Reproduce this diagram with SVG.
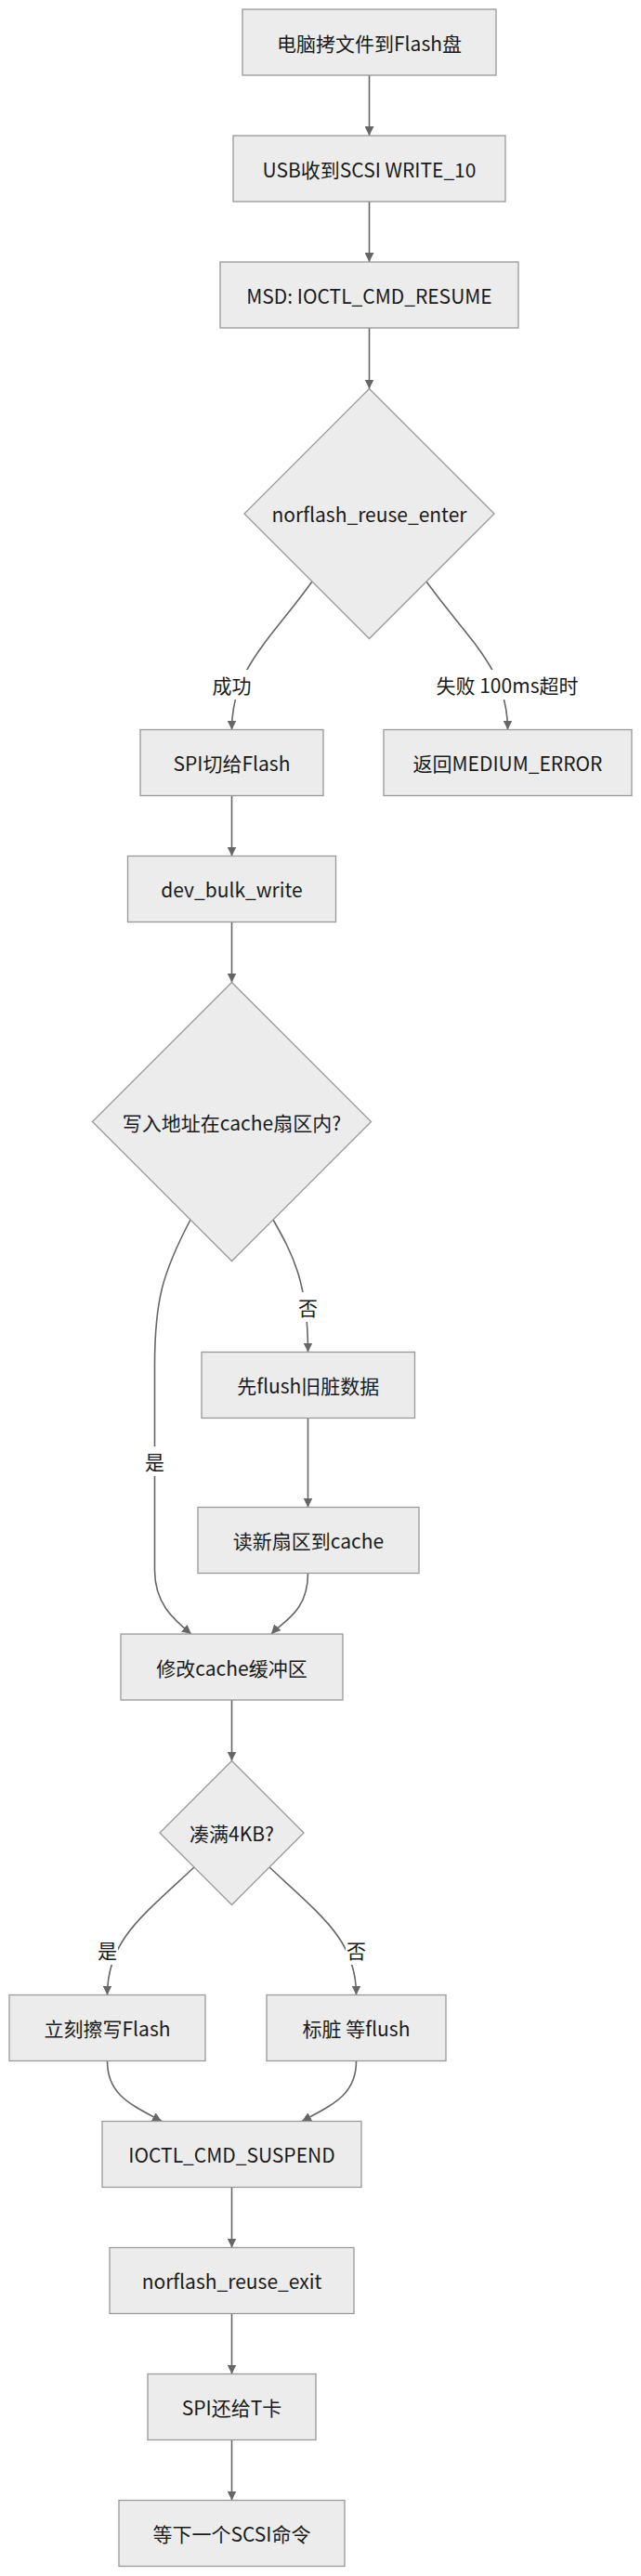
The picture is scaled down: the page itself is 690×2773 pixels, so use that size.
<svg xmlns="http://www.w3.org/2000/svg" width="690" height="2773" viewBox="0 0 690 2773">
<style>
.node rect, .node polygon { fill: #ececec; stroke: #999; stroke-width: 1.3px; }
text { font-family: "Noto Sans CJK SC", "Noto Sans", sans-serif; font-size: 21px; fill: #1a1a1a; text-anchor: middle; dominant-baseline: central; }
.edge { fill: none; stroke: #666; stroke-width: 1.6px; marker-end: url(#arrow); }
.lbl rect { fill: #fff; stroke: none; }
</style>
<defs>
<marker id="arrow" viewBox="0 0 10 10" refX="10" refY="5" markerUnits="userSpaceOnUse" markerWidth="10" markerHeight="10" orient="auto">
<path d="M0,0 L10,5 L0,10 z" fill="#666"/>
</marker>
</defs>
<rect width="690" height="2773" fill="#fff"/>
<g id="connectors">
<path class="edge" d="M397.5,81 L397.5,146"/>
<path class="edge" d="M397.5,217 L397.5,282"/>
<path class="edge" d="M397.5,353 L397.5,418.5"/>
<path class="edge" d="M336,626 C290,690 249.5,720 249.5,785.5"/>
<path class="edge" d="M459,626 C505,690 546.5,720 546.5,785.5"/>
<path class="edge" d="M249.5,856.5 L249.5,921.5"/>
<path class="edge" d="M249.5,992.5 L249.5,1057.5"/>
<path class="edge" d="M294,1313 C315,1350 331.5,1380 331.5,1455.5"/>
<path class="edge" d="M205,1313 C175,1370 166.5,1400 166.5,1470 L166.5,1690 C166.5,1725 185,1742 206,1759"/>
<path class="edge" d="M331.5,1526.5 L331.5,1622.5"/>
<path class="edge" d="M331.5,1693.5 C331.5,1735 305,1745 292,1759"/>
<path class="edge" d="M249.5,1830 L249.5,1895.5"/>
<path class="edge" d="M209,2010 C150,2065 115.5,2090 115.5,2147.5"/>
<path class="edge" d="M290,2010 C349,2065 383.5,2090 383.5,2147.5"/>
<path class="edge" d="M115.5,2218.5 C115.5,2255 140,2265 174,2283.5"/>
<path class="edge" d="M383.5,2218.5 C383.5,2255 359,2265 325,2283.5"/>
<path class="edge" d="M249.5,2354.5 L249.5,2419.5"/>
<path class="edge" d="M249.5,2490.5 L249.5,2555.5"/>
<path class="edge" d="M249.5,2626.5 L249.5,2691.5"/>
</g>
<g id="edge-labels">
<g class="lbl" id="lbl-success"><rect x="228" y="721" width="43" height="32"/><text x="249.5" y="737">成功</text></g>
<g class="lbl" id="lbl-fail"><rect x="470" y="721" width="152" height="32"/><text x="546" y="737">失败 100ms超时</text></g>
<g class="lbl" id="lbl-no1"><rect x="320" y="1391" width="23" height="32"/><text x="331.5" y="1407">否</text></g>
<g class="lbl" id="lbl-yes1"><rect x="155" y="1557" width="23" height="32"/><text x="166.5" y="1573">是</text></g>
<g class="lbl" id="lbl-yes2"><rect x="104" y="2083" width="23" height="32"/><text x="115.5" y="2099">是</text></g>
<g class="lbl" id="lbl-no2"><rect x="372" y="2083" width="23" height="32"/><text x="383.5" y="2099">否</text></g>
</g>
<g class="node" id="n1"><rect x="261" y="10" width="273" height="71"/><text x="397.5" y="45.5">电脑拷文件到Flash盘</text></g>
<g class="node" id="n2"><rect x="251" y="146" width="293" height="71"/><text x="397.5" y="181.5">USB收到SCSI WRITE_10</text></g>
<g class="node" id="n3"><rect x="237" y="282" width="321" height="71"/><text x="397.5" y="317.5">MSD: IOCTL_CMD_RESUME</text></g>
<g class="node" id="d1"><polygon points="397.5,418.5 532,553 397.5,687.5 263,553"/><text x="397.5" y="553">norflash_reuse_enter</text></g>
<g class="node" id="n4"><rect x="151" y="785.5" width="197" height="71"/><text x="249.5" y="821">SPI切给Flash</text></g>
<g class="node" id="n5"><rect x="413" y="785.5" width="267" height="71"/><text x="546.5" y="821">返回MEDIUM_ERROR</text></g>
<g class="node" id="n6"><rect x="137.5" y="921.5" width="224" height="71"/><text x="249.5" y="957">dev_bulk_write</text></g>
<g class="node" id="d2"><polygon points="249.5,1057.5 399.5,1207.5 249.5,1357.5 99.5,1207.5"/><text x="249.5" y="1207.5">写入地址在cache扇区内?</text></g>
<g class="node" id="n7"><rect x="217" y="1455.5" width="229.5" height="71"/><text x="331.75" y="1491">先flush旧脏数据</text></g>
<g class="node" id="n8"><rect x="213" y="1622.5" width="238" height="71"/><text x="332" y="1658">读新扇区到cache</text></g>
<g class="node" id="n9"><rect x="130" y="1759" width="239" height="71"/><text x="249.5" y="1794.5">修改cache缓冲区</text></g>
<g class="node" id="d3"><polygon points="249.5,1895.5 327,1973 249.5,2050.5 172,1973"/><text x="249.5" y="1973">凑满4KB?</text></g>
<g class="node" id="n10"><rect x="10" y="2147.5" width="211" height="71"/><text x="115.5" y="2183">立刻擦写Flash</text></g>
<g class="node" id="n11"><rect x="287" y="2147.5" width="193" height="71"/><text x="383.5" y="2183">标脏 等flush</text></g>
<g class="node" id="n12"><rect x="110" y="2283.5" width="279" height="71"/><text x="249.5" y="2319">IOCTL_CMD_SUSPEND</text></g>
<g class="node" id="n13"><rect x="118" y="2419.5" width="263" height="71"/><text x="249.5" y="2455">norflash_reuse_exit</text></g>
<g class="node" id="n14"><rect x="159" y="2555.5" width="181" height="71"/><text x="249.5" y="2591">SPI还给T卡</text></g>
<g class="node" id="n15"><rect x="128" y="2691.5" width="243" height="71"/><text x="249.5" y="2727">等下一个SCSI命令</text></g>
</svg>
